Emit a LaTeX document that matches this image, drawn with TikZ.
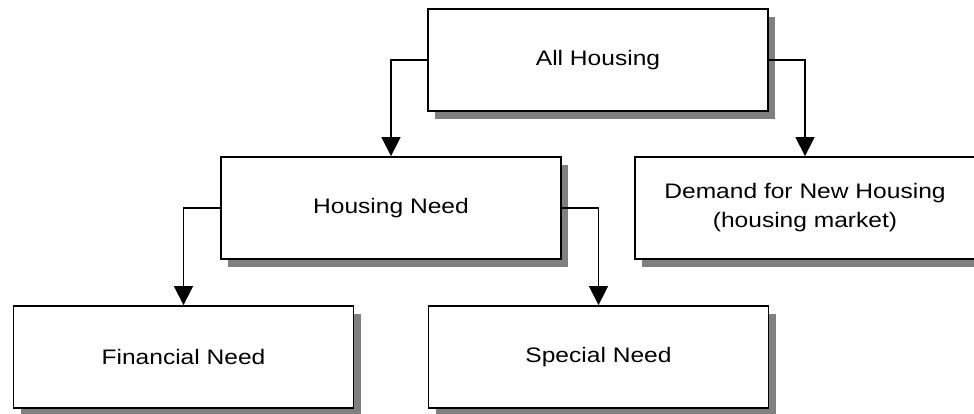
\documentclass[tikz,border=0pt]{standalone}
\usepackage{fontspec}
\setmainfont{Liberation Sans}[FakeStretch=1.17]
\usetikzlibrary{arrows.meta,shadows}
\begin{document}
\begin{tikzpicture}[x=1pt,y=-1pt,
  box/.style={draw,line width=1.8pt,fill=white,minimum width=340pt,minimum height=102pt,
    align=center,font=\fontsize{21}{29}\selectfont,
    drop shadow={shadow xshift=7pt,shadow yshift=-8pt,fill=gray,opacity=1}},
  link/.style={line width=1.4pt,-{Triangle[width=19pt,length=19pt]}}]
  \useasboundingbox (0,0) rectangle (974,413);
  \node[box] (all) at (598,60) {All Housing};
  \node[box] (need) at (391,208) {Housing Need};
  \node[box] (demand) at (805,208) {Demand for New Housing\\(housing market)};
  \node[box] (financial) at (183.5,357) {Financial Need};
  \node[box] (special) at (598.5,357) {Special Need};
  \draw[link] (all.west) -| (need.north);
  \draw[link] (all.east) -| (demand.north);
  \draw[link] (need.west) -| (financial.north);
  \draw[link] (need.east) -| (special.north);
\end{tikzpicture}
\end{document}
